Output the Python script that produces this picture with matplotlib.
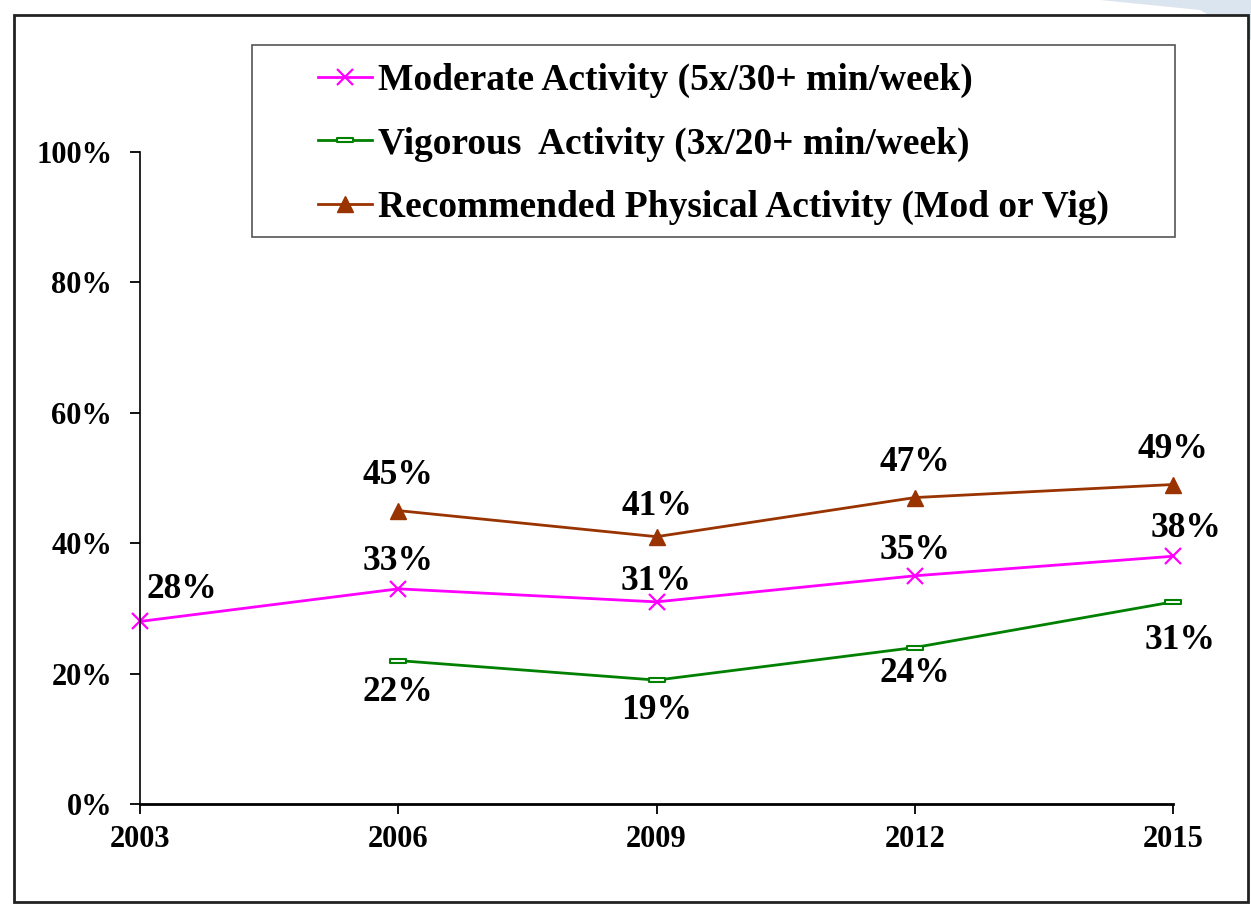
import numpy as np
import matplotlib.pyplot as plt
from matplotlib.path import Path
from matplotlib.patches import Rectangle, Polygon
from matplotlib.ticker import PercentFormatter

plt.rcParams['font.family'] = ['Liberation Serif', 'DejaVu Serif']
plt.rcParams['font.weight'] = 'bold'

years = ['2003', '2006', '2009', '2012', '2015']
moderate = [28, 33, 31, 35, 38]
vigorous = [np.nan, 22, 19, 24, 31]
recommended = [np.nan, 45, 41, 47, 49]

mod_label = 'Moderate Activity (5x/30+ min/week)'
vig_label = 'Vigorous  Activity (3x/20+ min/week)'
rec_label = 'Recommended Physical Activity (Mod or Vig)'

W, H = 1251, 917
fig = plt.figure(figsize=(W / 100, H / 100), dpi=100, facecolor='white')

# light blue swoosh top right and page border
fig.patches.append(Polygon([(1100 / W, 1), (1.0, 1), (1.0, 1 - 40 / H), (1200 / W, 1 - 10 / H)],
                           closed=True, transform=fig.transFigure, facecolor='#d3dfec',
                           edgecolor='none', alpha=0.8, zorder=-2))
fig.patches.append(Rectangle((14 / W, 15 / H), 1 - 3 / W - 14 / W, 1 - 15 / H - 15 / H,
                             transform=fig.transFigure, facecolor='white',
                             edgecolor='#222222', lw=2, zorder=-1))
# legend frame
fig.patches.append(Rectangle((252 / W, 1 - 237 / H), (1175 - 252) / W, (237 - 45) / H,
                             transform=fig.transFigure, facecolor='white',
                             edgecolor='#555555', lw=1.2, zorder=-0.5))

ax = fig.add_axes([140 / W, 1 - 804 / H, (1173 - 140) / W, (804 - 152) / H])
ax.set_facecolor('none')
x = np.arange(len(years))

rect = Path([(-1, -0.3), (1, -0.3), (1, 0.3), (-1, 0.3), (-1, -0.3)],
            [Path.MOVETO, Path.LINETO, Path.LINETO, Path.LINETO, Path.CLOSEPOLY])

ax.plot(x, moderate, color='#ff00ff', lw=2, marker='x', ms=12, mew=1.6,
        label=mod_label, clip_on=False)
ax.plot(x, vigorous, color='#008000', lw=2, marker=rect, ms=11, mew=1.5,
        mfc='white', mec='#008000', label=vig_label, clip_on=False)
ax.plot(x, recommended, color='#993300', lw=2, marker='^', ms=12,
        label=rec_label, clip_on=False)

lbl = dict(fontsize=25.5, fontweight='bold', ha='center', va='center',
           textcoords='offset points')
mod_off = [(30, 23), (0, 20), (0, 15), (0, 18), (9, 20)]
vig_off = [None, (0, -23), (0, -22), (0, -19), (5, -28)]
rec_off = [None, (0, 25), (0, 22), (0, 25), (0, 25)]
for i in range(len(years)):
    ax.annotate(f'{moderate[i]}%', (x[i], moderate[i]), xytext=mod_off[i], **lbl)
    if not np.isnan(vigorous[i]):
        ax.annotate(f'{vigorous[i]:.0f}%', (x[i], vigorous[i]), xytext=vig_off[i], **lbl)
    if not np.isnan(recommended[i]):
        ax.annotate(f'{recommended[i]:.0f}%', (x[i], recommended[i]), xytext=rec_off[i], **lbl)

ax.set_xlim(0, len(years) - 1)
ax.set_ylim(0, 100)
ax.set_xticks(x)
ax.set_xticklabels(years)
ax.set_yticks(np.arange(0, 101, 20))
ax.yaxis.set_major_formatter(PercentFormatter(decimals=0))
ax.tick_params(axis='both', labelsize=22, direction='out', length=7, width=1.3)
ax.tick_params(axis='y', pad=13)
ax.tick_params(axis='x', pad=8)
for t in ax.get_xticklabels() + ax.get_yticklabels():
    t.set_fontweight('bold')
for s in ['top', 'right']:
    ax.spines[s].set_visible(False)
ax.spines['left'].set_linewidth(1.2)
ax.spines['bottom'].set_linewidth(2)

leg = ax.legend(loc='center left', bbox_to_anchor=(318 / W, 1 - 144 / H),
                bbox_transform=fig.transFigure, frameon=False,
                prop={'size': 27, 'weight': 'bold'}, handlelength=1.45, handletextpad=0.15,
                labelspacing=0.76, borderpad=0, borderaxespad=0)

fig.savefig('out.png', dpi=100)
